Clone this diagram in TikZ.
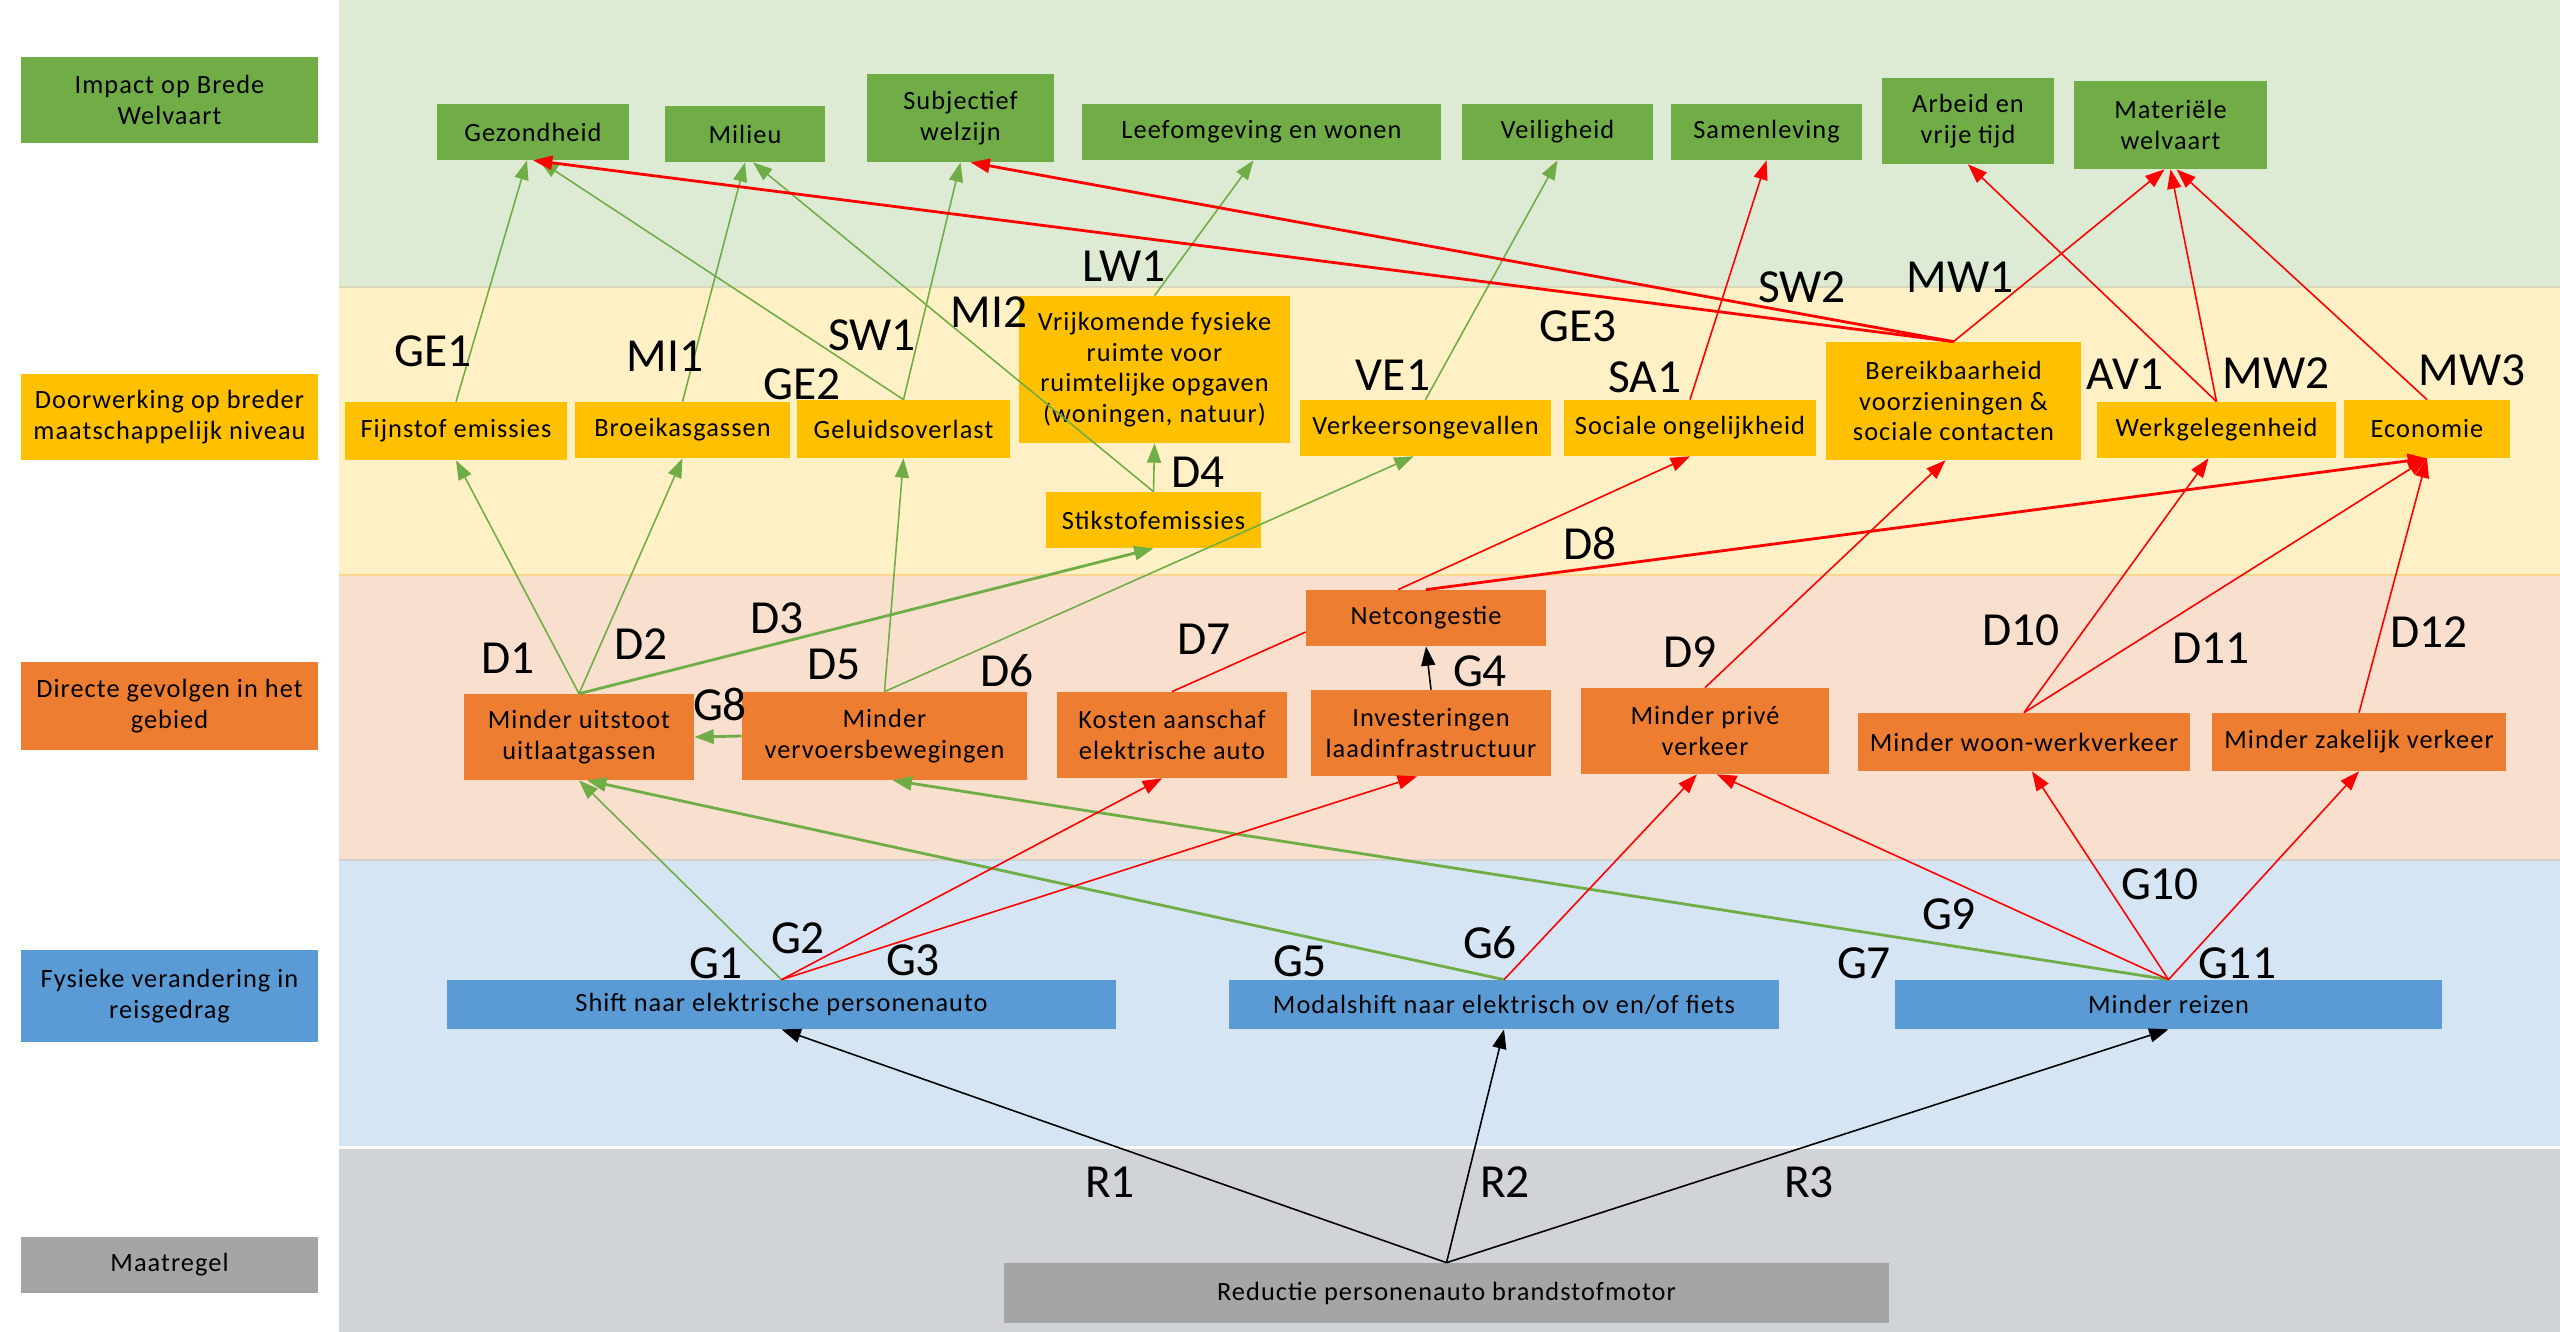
\documentclass[tikz,border=0pt]{standalone}
\usepackage{fontspec}
\setmainfont{Carlito}
\newfontfamily\nodefont{Carlito}[LetterSpace=4]
\usetikzlibrary{arrows.meta,calc}
\newdimen\px \px=0.02cm
\definecolor{bandG}{HTML}{DEEBD4}
\definecolor{bandY}{HTML}{FFF0C5}
\definecolor{bandP}{HTML}{F9DFCD}
\definecolor{bandB}{HTML}{D6E5F4}
\definecolor{bandK}{HTML}{D0D3D8}
\definecolor{nG}{HTML}{70AD47}
\definecolor{nY}{HTML}{FFC000}
\definecolor{nO}{HTML}{ED7D31}
\definecolor{nB}{HTML}{5B9BD5}
\definecolor{nK}{HTML}{A5A5A5}
\definecolor{aG}{HTML}{70AD47}
\definecolor{aR}{HTML}{FF0000}
\begin{document}
\begin{tikzpicture}[x=0.02cm,y=-0.02cm,
  nbox/.style={draw=none, inner sep=0pt, align=center, font=\nodefont\fontsize{15}{17.5}\selectfont},
  lab/.style={font=\fontsize{27}{30}\selectfont, inner sep=0pt},
  tip/.style={-{Triangle[length=11pt,width=8pt]}},
  gA/.style={draw=aG, line width=0.9pt, tip},
  gT/.style={draw=aG, line width=1.6pt, tip},
  rA/.style={draw=aR, line width=0.9pt, tip},
  rT/.style={draw=aR, line width=1.6pt, tip},
  bA/.style={draw=black, line width=0.9pt, tip}]
\useasboundingbox (0,0) rectangle (2560,1332);
\fill[white] (0,0) rectangle (2560,1332);
% bands
\fill[bandG] (339,0) rectangle (2560,287);
\fill[bandY] (339,287) rectangle (2560,575);
\fill[bandP] (339,575) rectangle (2560,860);
\fill[bandB] (339,860) rectangle (2560,1146);
\fill[bandK] (339,1149) rectangle (2560,1332);
\draw[color=bandY!85!black!60!bandG, line width=1pt] (339,287) -- (2560,287);
\draw[color=nY!30!bandP, line width=1.5pt] (339,575) -- (2560,575);
\draw[color=black!18, line width=1.5pt] (339,860) -- (2560,860);
% left column
\node[nbox, fill=nG, minimum width=297\px, minimum height=86\px] (l1) at (169.5,100) {Impact op Brede\\Welvaart};
\node[nbox, fill=nY, minimum width=297\px, minimum height=86\px] (l2) at (169.5,417) {Doorwerking op breder\\maatschappelijk niveau};
\node[nbox, fill=nO, minimum width=297\px, minimum height=88\px] (l3) at (169.5,706) {Directe gevolgen in het\\gebied};
\node[nbox, fill=nB, minimum width=297\px, minimum height=92\px] (l4) at (169.5,996) {Fysieke verandering in\\reisgedrag};
\node[nbox, fill=nK, minimum width=297\px, minimum height=56\px] (l5) at (169.5,1265) {Maatregel};
% green top
\node[nbox, fill=nG, minimum width=192\px, minimum height=56\px] (gez) at (533,132) {Gezondheid};
\node[nbox, fill=nG, minimum width=160\px, minimum height=56\px] (mil) at (745,134) {Milieu};
\node[nbox, fill=nG, minimum width=187\px, minimum height=88\px] (sub) at (960.5,118) {Subjectief\\welzijn};
\node[nbox, fill=nG, minimum width=359\px, minimum height=56\px] (lee) at (1261.5,132) {Leefomgeving en wonen};
\node[nbox, fill=nG, minimum width=191\px, minimum height=56\px] (vei) at (1557.5,132) {Veiligheid};
\node[nbox, fill=nG, minimum width=191\px, minimum height=56\px] (sam) at (1766.5,132) {Samenleving};
\node[nbox, fill=nG, minimum width=172\px, minimum height=86\px] (arb) at (1968,121) {Arbeid en\\vrije tijd};
\node[nbox, fill=nG, minimum width=193\px, minimum height=88\px] (mat) at (2170.5,125) {Materiële\\welvaart};
% yellow
\node[nbox, fill=nY, minimum width=222\px, minimum height=58\px] (fij) at (456,431) {Fijnstof emissies};
\node[nbox, fill=nY, minimum width=215\px, minimum height=56\px] (bro) at (682.5,430) {Broeikasgassen};
\node[nbox, fill=nY, minimum width=213\px, minimum height=58\px] (gel) at (903.5,429) {Geluidsoverlast};
\node[nbox, fill=nY, minimum width=271\px, minimum height=147\px] (vri) at (1154.5,369.5) {Vrijkomende fysieke\\ruimte voor\\ruimtelijke opgaven\\(woningen, natuur)};
\node[nbox, fill=nY, minimum width=215\px, minimum height=56\px] (sti) at (1153.5,520) {Stikstofemissies};
\node[nbox, fill=nY, minimum width=251\px, minimum height=56\px] (ver) at (1425.5,428) {Verkeersongevallen};
\node[nbox, fill=nY, minimum width=252\px, minimum height=56\px] (soc) at (1690,428) {Sociale ongelijkheid};
\node[nbox, fill=nY, minimum width=255\px, minimum height=118\px] (ber) at (1953.5,401) {Bereikbaarheid\\voorzieningen \&\\sociale contacten};
\node[nbox, fill=nY, minimum width=239\px, minimum height=56\px] (wer) at (2216.5,430) {Werkgelegenheid};
\node[nbox, fill=nY, minimum width=166\px, minimum height=58\px] (eco) at (2427,429) {Economie};
% orange
\node[nbox, fill=nO, minimum width=230\px, minimum height=86\px] (uit) at (579,737) {Minder uitstoot\\uitlaatgassen};
\node[nbox, fill=nO, minimum width=285\px, minimum height=88\px] (vvb) at (884.5,736) {Minder\\vervoersbewegingen};
\node[nbox, fill=nO, minimum width=230\px, minimum height=86\px] (kos) at (1172,735) {Kosten aanschaf\\elektrische auto};
\node[nbox, fill=nO, minimum width=240\px, minimum height=56\px] (net) at (1426,618) {Netcongestie};
\node[nbox, fill=nO, minimum width=240\px, minimum height=86\px] (inv) at (1431,733) {Investeringen\\laadinfrastructuur};
\node[nbox, fill=nO, minimum width=248\px, minimum height=86\px] (pri) at (1705,731) {Minder privé\\verkeer};
\node[nbox, fill=nO, minimum width=332\px, minimum height=58\px] (woo) at (2024,742) {Minder woon-werkverkeer};
\node[nbox, fill=nO, minimum width=294\px, minimum height=58\px] (zak) at (2359,742) {Minder zakelijk verkeer};
% blue
\node[nbox, fill=nB, minimum width=669\px, minimum height=49\px] (shi) at (781.5,1004.5) {Shift naar elektrische personenauto};
\node[nbox, fill=nB, minimum width=550\px, minimum height=49\px] (mod) at (1504,1004.5) {Modalshift naar elektrisch ov en/of fiets};
\node[nbox, fill=nB, minimum width=547\px, minimum height=49\px] (rei) at (2168.5,1004.5) {Minder reizen};
% grey
\node[nbox, fill=nK, minimum width=885\px, minimum height=60\px] (red) at (1446.5,1293) {Reductie personenauto brandstofmotor};
% black edges
\draw[bA] (red.north) -- (shi.south);
\draw[bA] (red.north) -- (mod.south);
\draw[bA] (red.north) -- (rei.south);
\draw[bA] (inv.north) -- (net.south);
% green edges
\draw[gA] (shi.north) -- (uit.south);
\draw[gT] (mod.north) -- ($(uit.south)+(8,0)$);
\draw[gT] (rei.north) -- ($(vvb.south)+(8,0)$);
\draw[gT] (vvb.west) -- (uit.east);
\draw[gA] (uit.north) -- (fij.south);
\draw[gA] (uit.north) -- (bro.south);
\draw[gT] (uit.north) -- (sti.south);
\draw[gA] (vvb.north) -- (gel.south);
\draw[gA] (vvb.north) -- ($(ver.south)+(-12,0)$);
\draw[gA] (sti.north) -- (vri.south);
\draw[gA] (fij.north) -- ($(gez.south)+(-6,0)$);
\draw[gA] (gel.north) -- ($(gez.south)+(6,0)$);
\draw[gA] (gel.north) -- (sub.south);
\draw[gA] (bro.north) -- (mil.south);
\draw[gA] (sti.north) -- ($(mil.south)+(8,0)$);
\draw[gA] (vri.north) -- ($(lee.south)+(-8,0)$);
\draw[gA] (ver.north) -- (vei.south);
% red edges
\draw[rA] (shi.north) -- ($(kos.south)+(-10,0)$);
\draw[rA] (shi.north) -- ($(inv.south)+(-14,0)$);
\draw[rA] (mod.north) -- ($(pri.south)+(-8,0)$);
\draw[rA] (rei.north) -- ($(pri.south)+(12,0)$);
\draw[rA] (rei.north) -- ($(woo.south)+(8,0)$);
\draw[rA] (rei.north) -- (zak.south);
\draw[draw=aR, line width=0.9pt] (kos.north) -- ($(net.west)+(0,14)$);
\draw[rA] ($(net.north)+(-28,0)$) -- (soc.south);
\draw[rT] (net.north) -- (eco.south);
\draw[rA] (pri.north) -- ($(ber.south)+(-8,0)$);
\draw[rA] (woo.north) -- ($(wer.south)+(-8,0)$);
\draw[rA] (woo.north) -- (eco.south);
\draw[rA] (zak.north) -- (eco.south);
\draw[rA] (soc.north) -- (sam.south);
\draw[rT] (ber.north) -- (gez.south);
\draw[rT] (ber.north) -- ($(sub.south)+(10,0)$);
\draw[rA] (ber.north) -- ($(mat.south)+(-6,0)$);
\draw[rA] (wer.north) -- (arb.south);
\draw[rA] (wer.north) -- (mat.south);
\draw[rA] (eco.north) -- ($(mat.south)+(6,0)$);
% labels
\node[lab] (tGE1) at (433,351) {GE1};
\node[lab] (tMI1) at (665,356) {MI1};
\node[lab] (tGE2) at (802,384) {GE2};
\node[lab] (tSW1) at (872,335) {SW1};
\node[lab] (tMI2) at (989,312) {MI2};
\node[lab] (tLW1) at (1124,266) {LW1};
\node[lab] (tD4) at (1198,472) {D4};
\node[lab] (tVE1) at (1393,375) {VE1};
\node[lab] (tSA1) at (1645,377) {SA1};
\node[lab] (tGE3) at (1578,326) {GE3};
\node[lab] (tSW2) at (1802,287) {SW2};
\node[lab] (tMW1) at (1960,277) {MW1};
\node[lab] (tAV1) at (2125,374) {AV1};
\node[lab] (tMW2) at (2276,373) {MW2};
\node[lab] (tMW3) at (2472,370) {MW3};
\node[lab] (tD8) at (1590,543) {D8};
\node[lab] (tD1) at (508,658) {D1};
\node[lab] (tD2) at (641,644) {D2};
\node[lab] (tD3) at (777,618) {D3};
\node[lab] (tD5) at (834,664) {D5};
\node[lab] (tD6) at (1007,671) {D6};
\node[lab] (tD7) at (1204,639) {D7};
\node[lab] (tG8) at (720,704) {G8};
\node[lab] (tG4) at (1480,671) {G4};
\node[lab] (tD9) at (1690,652) {D9};
\node[lab] (tD10) at (2021,630) {D10};
\node[lab] (tD11) at (2211,648) {D11};
\node[lab] (tD12) at (2429,632) {D12};
\node[lab] (tG1) at (716,963) {G1};
\node[lab] (tG2) at (798,938) {G2};
\node[lab] (tG3) at (913,960) {G3};
\node[lab] (tG5) at (1300,961) {G5};
\node[lab] (tG6) at (1490,943) {G6};
\node[lab] (tG7) at (1864,963) {G7};
\node[lab] (tG9) at (1949,914) {G9};
\node[lab] (tG10) at (2160,884) {G10};
\node[lab] (tG11) at (2237,963) {G11};
\node[lab] (tR1) at (1110,1182) {R1};
\node[lab] (tR2) at (1505,1182) {R2};
\node[lab] (tR3) at (1809,1182) {R3};
\end{tikzpicture}
\end{document}
